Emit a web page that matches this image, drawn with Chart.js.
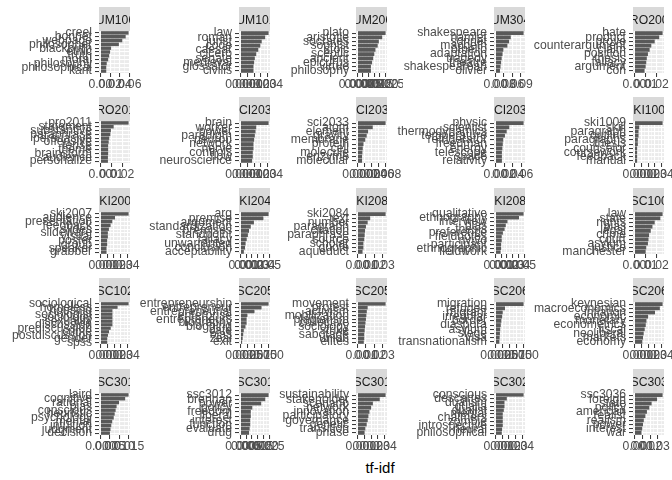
<!DOCTYPE html>
<html><head><meta charset="utf-8">
<script src="https://cdn.jsdelivr.net/npm/chart.js@4"></script>
<style>
html,body{margin:0;padding:0;background:#fff;}
#wrap{position:relative;width:672px;height:480px;overflow:hidden;background:#fff;}
#wrap canvas{position:absolute;}
#xtitle{position:absolute;left:0;width:760px;top:459px;text-align:center;font:15px "Liberation Sans",Arial,sans-serif;color:#000;line-height:17px;}
</style></head>
<body><div id="wrap"><div id="xtitle">tf-idf</div></div>
<script>
// ---------------- DATA ----------------
const panelTitles = ["HUM1001","HUM1011","HUM2005","HUM3040","PRO2004",
  "PRO2011","SCI2032","SCI2033","SCI2036","SKI1009",
  "SKI2007","SKI2041","SKI2084","SKI2086","SSC1005",
  "SSC1024","SSC2051","SSC2052","SSC2061","SSC2062",
  "SSC3011","SSC3012","SSC3019","SSC3021","SSC3036"];

const words01 = ["creel","bonnet","webpage","philosopher","blackburn","ethic","truth","moral","philosophy","philosophical","kant"];
const tfidf01 = [0.058,0.052,0.045,0.038,0.022,0.020,0.018,0.016,0.013,0.012,0.012];
const ticks01 = ["0.00","0.02","0.04","0.06"];

const words02 = ["law","roman","jurist","code","caesar","cicero","senate","medieval","glossator","civilis"];
const tfidf02 = [0.0041,0.0036,0.0031,0.0029,0.0026,0.0023,0.0021,0.0020,0.0019,0.0019];
const ticks02 = ["0.000","0.001","0.002","0.003","0.004"];

const words03 = ["plato","aristotle","socrates","sophist","stoic","sceptic","ancient","epicurus","virtue","philosophy"];
const tfidf03 = [0.0025,0.0022,0.0019,0.0018,0.0016,0.0015,0.0014,0.0013,0.0012,0.0012];
const ticks03 = ["0.0000","0.0005","0.0010","0.0015","0.0020","0.0025"];

const words04 = ["shakespeare","hamlet","sonnet","macbeth","othello","adaptation","tragedy","theatre","shakespearean","olivier"];
const tfidf04 = [0.099,0.054,0.048,0.042,0.028,0.025,0.022,0.020,0.018,0.016];
const ticks04 = ["0.00","0.03","0.06","0.09"];

const words05 = ["hate","product","prove","counterargument","claim","position","thesis","fallacy","argument","con"];
const tfidf05 = [0.025,0.022,0.018,0.015,0.0135,0.012,0.011,0.0105,0.010,0.009];
const ticks05 = ["0.00","0.01","0.02"];

const words06 = ["pro2011","statement","substantive","paraphrase","persuasive","offensive","tense","theme","brainstorm","audience","personalize"];
const tfidf06 = [0.0255,0.012,0.0095,0.009,0.008,0.0075,0.007,0.007,0.007,0.0068,0.0068];
const ticks06 = ["0.00","0.01","0.02"];

const words07 = ["brain","worker","power","paradigm","neuron","network","nerve","controls","flow","neuroscience"];
const tfidf07 = [0.0041,0.0023,0.0022,0.0021,0.0020,0.0019,0.0019,0.0018,0.0018,0.0017];
const ticks07 = ["0.000","0.001","0.002","0.003","0.004"];

const words08 = ["sci2033","atom","element","gravity","membrane","protein","cell","molecule","enzyme","molecular"];
const tfidf08 = [0.0079,0.0043,0.0030,0.0026,0.0022,0.0017,0.0015,0.0014,0.0013,0.0013];
const ticks08 = ["0.000","0.002","0.004","0.006","0.008"];

const words09 = ["physic","scientist","thermodynamics","temperature","refrigerator","freedman","energy","telescope","space","relativity"];
const tfidf09 = [0.065,0.032,0.026,0.022,0.018,0.017,0.016,0.015,0.015,0.015];
const ticks09 = ["0.00","0.02","0.04","0.06"];

const words10 = ["ski1009","skill","paragraph","outline","paragraphs","thesis","counselor","coursework","feedback","manual"];
const tfidf10 = [0.041,0.007,0.006,0.006,0.005,0.005,0.004,0.004,0.004,0.004];
const ticks10 = ["0.00","0.01","0.02","0.03","0.04"];

const words11 = ["ski2007","audience","presentation","feedback","slides","slideware","visual","poster","group","speaker","grabber"];
const tfidf11 = [0.0415,0.0215,0.0175,0.015,0.0125,0.011,0.011,0.010,0.010,0.009,0.009];
const ticks11 = ["0.00","0.01","0.02","0.03","0.04"];

const words12 = ["arg","premise","argument","standardization","premises","standpoint","fallacy","unwarranted","conclusion","acceptability"];
const tfidf12 = [0.049,0.040,0.0235,0.018,0.015,0.013,0.011,0.009,0.008,0.006];
const ticks12 = ["0.00","0.01","0.02","0.03","0.04","0.05"];

const words13 = ["ski2084","text","number","paragraph","citation","paraphrase","source","scholar","quote","aqueduct"];
const tfidf13 = [0.033,0.015,0.012,0.010,0.009,0.0085,0.008,0.007,0.007,0.006];
const ticks13 = ["0.00","0.01","0.02","0.03"];

const words14 = ["qualitative","ethnography","interview","bias","thesis","preference","fieldnotes","nvivo","participant","ethnographic","fieldwork"];
const tfidf14 = [0.049,0.041,0.021,0.018,0.016,0.013,0.011,0.011,0.010,0.010,0.009];
const ticks14 = ["0.00","0.01","0.02","0.03","0.04","0.05"];

const words15 = ["law","state","rights","bias","legal","crime","court","asylum","justice","manchester"];
const tfidf15 = [0.025,0.023,0.018,0.016,0.0145,0.013,0.0125,0.012,0.0105,0.010];
const ticks15 = ["0.00","0.01","0.02"];

const words16 = ["sociological","homeless","housing","sociologist","sociology","sexuality","discussion","prediscussion","crime","postdiscussion","gender","spss"];
const tfidf16 = [0.041,0.025,0.0175,0.0175,0.0175,0.0175,0.0175,0.015,0.0125,0.011,0.010,0.010];
const ticks16 = ["0.00","0.01","0.02","0.03","0.04"];

const words17 = ["entrepreneurship","entrepreneur","entrepreneurial","enterprise","entrepreneurs","biography","blogging","cafe","bias","zeal","exit"];
const tfidf17 = [0.100,0.075,0.050,0.025,0.022,0.022,0.018,0.012,0.010,0.008,0.006];
const ticks17 = ["0.000","0.025","0.050","0.075","0.100"];

const words18 = ["movement","protest","activism","mobilization","plagiarism","collective","sociology","strike","sabotage","union","elites"];
const tfidf18 = [0.033,0.012,0.011,0.0105,0.010,0.0095,0.009,0.0085,0.008,0.008,0.0075];
const ticks18 = ["0.00","0.01","0.02","0.03"];

const words19 = ["migration","refugee","migrant","irregular","border","diaspora","asylum","siege","visa","transnationalism"];
const tfidf19 = [0.100,0.034,0.026,0.024,0.021,0.019,0.017,0.016,0.015,0.014];
const ticks19 = ["0.000","0.025","0.050","0.075","0.100"];

const words20 = ["keynesian","macroeconomics","inflation","economic","monetary","econometrics","fiscal","neoliberal","markets","economy"];
const tfidf20 = [0.041,0.037,0.030,0.020,0.0175,0.0165,0.015,0.0135,0.0125,0.0115];
const ticks20 = ["0.00","0.01","0.02","0.03","0.04"];

const words21 = ["laird","cognitive","rational","bias","conscious","heuristic","psychology","mental","intuition","judgment","decision"];
const tfidf21 = [0.0148,0.013,0.0098,0.0085,0.008,0.0075,0.007,0.0062,0.0057,0.0053,0.005];
const ticks21 = ["0.000","0.005","0.010","0.015"];

const words22 = ["ssc3012","brennan","power","policy","freedom","liberal","interest","function","evaluate","drug"];
const tfidf22 = [0.0244,0.0215,0.018,0.0103,0.009,0.009,0.0085,0.0085,0.008,0.0075];
const ticks22 = ["0.000","0.005","0.010","0.015","0.020","0.025"];

const words23 = ["sustainability","stakeholder","scenario","network","innovation","participatory","governance","genetic","transition","phase"];
const tfidf23 = [0.041,0.0325,0.0225,0.020,0.0175,0.016,0.015,0.0135,0.0115,0.0105];
const ticks23 = ["0.00","0.01","0.02","0.03","0.04"];

const words24 = ["conscious","descartes","dualism","qualia","dualist","mental","chalmers","zombie","introspective","neural","philosophical"];
const tfidf24 = [0.042,0.017,0.0135,0.0135,0.0125,0.011,0.011,0.011,0.011,0.010,0.0095];
const ticks24 = ["0.00","0.01","0.02","0.03","0.04"];

const words25 = ["ssc3036","foreign","state","policy","american","realist","realism","power","interest","war"];
const tfidf25 = [0.036,0.029,0.022,0.019,0.016,0.014,0.012,0.011,0.010,0.009];
const ticks25 = ["0.00","0.01","0.02","0.03"];

// ---------------- LAYOUT ----------------
const FONT = '"Liberation Sans", Arial, sans-serif';
const FSIZE = 12.2;
const PANEL_LEFT = [99, 239, 356, 494, 633];
const PANEL_W = 31;
const COL_START = [0, 132, 272, 389, 527];
const STRIP_TOP = [7, 97, 188, 278, 369];
const STRIP_H = 24, PANEL_H = 42, AXIS_H = 22;

const allWords = [words01,words02,words03,words04,words05,words06,words07,words08,words09,words10,words11,words12,words13,words14,words15,words16,words17,words18,words19,words20,words21,words22,words23,words24,words25];
const allVals = [tfidf01,tfidf02,tfidf03,tfidf04,tfidf05,tfidf06,tfidf07,tfidf08,tfidf09,tfidf10,tfidf11,tfidf12,tfidf13,tfidf14,tfidf15,tfidf16,tfidf17,tfidf18,tfidf19,tfidf20,tfidf21,tfidf22,tfidf23,tfidf24,tfidf25];
const allTicks = [ticks01,ticks02,ticks03,ticks04,ticks05,ticks06,ticks07,ticks08,ticks09,ticks10,ticks11,ticks12,ticks13,ticks14,ticks15,ticks16,ticks17,ticks18,ticks19,ticks20,ticks21,ticks22,ticks23,ticks24,ticks25];

const stripPlugin = {
  id: 'strip',
  beforeDraw(chart, args, opts) {
    const ctx = chart.ctx, a = chart.chartArea;
    ctx.save();
    ctx.fillStyle = '#EBEBEB';
    ctx.fillRect(a.left, a.top, a.right - a.left, a.bottom - a.top);
    ctx.fillStyle = '#D9D9D9';
    ctx.fillRect(a.left, a.top - STRIP_H, a.right - a.left, STRIP_H);
    ctx.beginPath();
    ctx.rect(a.left, a.top - STRIP_H, a.right - a.left, STRIP_H);
    ctx.clip();
    ctx.fillStyle = '#1A1A1A';
    ctx.font = FSIZE + 'px ' + FONT;
    ctx.textAlign = 'center';
    ctx.textBaseline = 'middle';
    ctx.fillText(opts.title, (a.left + a.right) / 2, a.top - STRIP_H / 2 + 1.5);
    ctx.restore();
  }
};

const wrap = document.getElementById('wrap');
for (let i = 0; i < 25; i++) {
  const r = Math.floor(i / 5), c = i % 5;
  const words = allWords[i], vals = allVals[i], tickLabels = allTicks[i];
  const mx = Math.max(...vals);
  const xmin = -0.05 * mx, xmax = 1.05 * mx;
  const majors = tickLabels.map(Number);
  const step = majors.length > 1 ? majors[1] - majors[0] : mx;
  const tickVals = [];
  const minorList = [];
  const cand = [];
  majors.forEach(v => cand.push({v, major: true}));
  for (let k = -1; k < majors.length; k++) {
    const m = (k < 0 ? majors[0] - step / 2 : majors[k] + step / 2);
    cand.push({v: m, major: false});
  }
  cand.filter(t => t.v >= xmin - 1e-12 && t.v <= xmax + 1e-12).sort((a, b) => a.v - b.v).forEach(t => {
    tickVals.push(t.v);
    if (!t.major) minorList.push(t.v);
  });
  const labelFor = v => {
    const k = majors.findIndex(m => Math.abs(m - v) < step * 1e-6);
    return k >= 0 ? tickLabels[k] : '';
  };
  const isMinor = v => minorList.some(m => Math.abs(m - v) < step * 1e-6);

  const rightPad = Math.min(16, 672 - (PANEL_LEFT[c] + PANEL_W));
  const yW = PANEL_LEFT[c] - COL_START[c];
  const cw = PANEL_LEFT[c] + PANEL_W + rightPad - COL_START[c];
  const ch = STRIP_H + PANEL_H + AXIS_H;
  const cv = document.createElement('canvas');
  cv.width = cw; cv.height = ch;
  cv.style.left = COL_START[c] + 'px';
  cv.style.top = STRIP_TOP[r] + 'px';
  cv.style.width = cw + 'px'; cv.style.height = ch + 'px';
  wrap.appendChild(cv);

  new Chart(cv, {
    type: 'bar',
    data: {
      labels: words,
      datasets: [{ data: vals, backgroundColor: '#595959', borderWidth: 0, barPercentage: 0.9, categoryPercentage: 1.0 }]
    },
    options: {
      indexAxis: 'y',
      responsive: false,
      animation: false,
      devicePixelRatio: 1,
      events: [],
      layout: { padding: { top: STRIP_H, right: rightPad, left: 0, bottom: 0 } },
      plugins: { legend: { display: false }, tooltip: { enabled: false }, title: { display: false }, strip: { title: panelTitles[i] } },
      scales: {
        x: {
          type: 'linear', min: xmin, max: xmax,
          afterBuildTicks: s => { s.ticks = tickVals.map(v => ({ value: v })); },
          afterFit: s => { s.height = AXIS_H; s.paddingLeft = 0; s.paddingRight = 0; },
          ticks: { autoSkip: false, maxRotation: 0, minRotation: 0, padding: 0, color: '#4D4D4D',
                   font: { family: FONT, size: FSIZE }, callback: v => labelFor(v) },
          grid: { color: '#FFFFFF', drawOnChartArea: true,
                  lineWidth: ctx => (ctx.tick && isMinor(ctx.tick.value)) ? 0.55 : 1.1,
                  tickColor: ctx => (ctx.tick && isMinor(ctx.tick.value)) ? 'rgba(0,0,0,0)' : '#333333',
                  tickLength: 4, tickWidth: 1 },
          border: { display: false }
        },
        y: {
          type: 'category', offset: true,
          afterFit: s => { s.width = yW; s.paddingTop = 0; s.paddingBottom = 0; },
          ticks: { autoSkip: false, padding: 3, color: '#4D4D4D', font: { family: FONT, size: FSIZE } },
          grid: { offset: false, color: '#FFFFFF', lineWidth: 1.1, tickColor: '#333333', tickLength: 4, tickWidth: 1 },
          border: { display: false }
        }
      }
    },
    plugins: [stripPlugin]
  });
}
</script>
</body></html>
